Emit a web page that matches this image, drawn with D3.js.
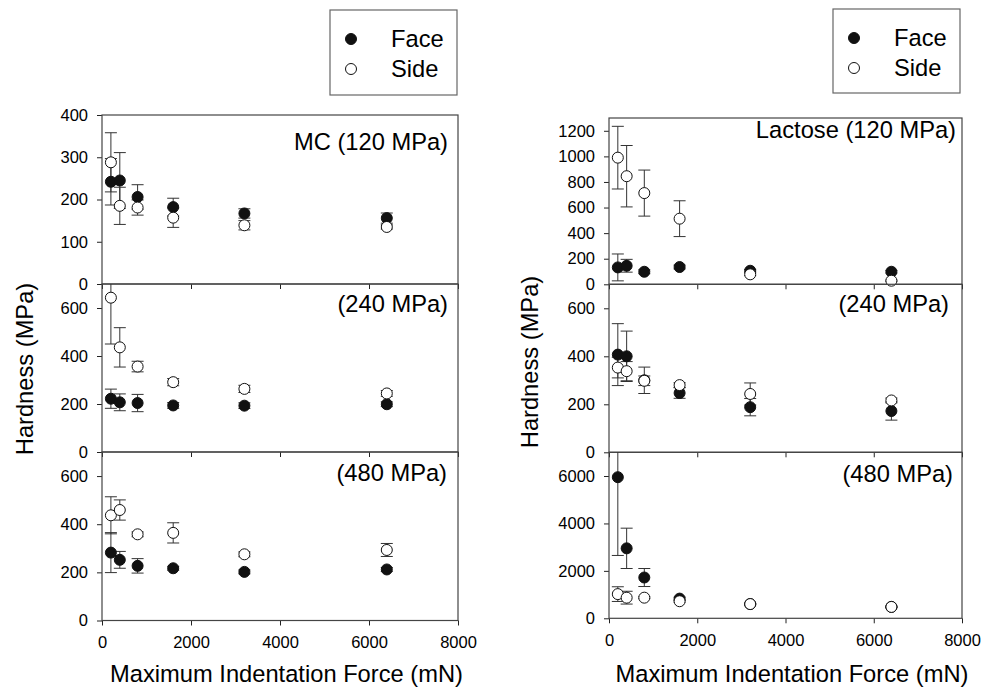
<!DOCTYPE html>
<html><head><meta charset="utf-8">
<script src="https://cdn.jsdelivr.net/npm/d3@7"></script>
<style>body{margin:0;background:#fff} text{font-family:"Liberation Sans",Arial,Helvetica,sans-serif;fill:#000}</style>
</head><body><svg id="c" width="995" height="689"></svg>
<script>
const forces = [200, 400, 800, 1600, 3200, 6400];
const xTicks = [0, 2000, 4000, 6000, 8000];
const seriesNames = ["Face", "Side"];
const xTitle = "Maximum Indentation Force (mN)";
const yTitle = "Hardness (MPa)";

// MC
const mc120Face = [242, 245, 206, 182, 167, 156];
const mc120FaceErr = [55, 66, 29, 21, 11, 12];
const mc120Side = [288, 185, 181, 157, 139, 135];
const mc120SideErr = [70, 44, 18, 23, 11, 5];
const mc240Face = [222, 207, 204, 194, 193, 199];
const mc240FaceErr = [40, 35, 36, 12, 12, 10];
const mc240Side = [643, 436, 356, 291, 263, 244];
const mc240SideErr = [193, 82, 22, 15, 15, 12];
const mc480Face = [282, 252, 227, 217, 202, 212];
const mc480FaceErr = [83, 35, 30, 8, 8, 8];
const mc480Side = [437, 459, 358, 364, 275, 293];
const mc480SideErr = [77, 42, 10, 42, 10, 27];
// Lactose
const lac120Face = [132, 145, 98, 135, 106, 98];
const lac120FaceErr = [105, 50, 15, 15, 10, 10];
const lac120Side = [990, 845, 713, 513, 78, 28];
const lac120SideErr = [245, 240, 180, 140, 10, 5];
const lac240Face = [407, 400, 300, 247, 188, 172];
const lac240FaceErr = [129, 105, 55, 22, 36, 38];
const lac240Side = [353, 338, 298, 280, 243, 216];
const lac240SideErr = [43, 40, 20, 10, 46, 10];
const lac480Face = [5950, 2950, 1720, 830, 600, 480];
const lac480FaceErr = [3300, 850, 380, 60, 30, 30];
const lac480Side = [1020, 870, 870, 720, 600, 480];
const lac480SideErr = [310, 270, 40, 40, 30, 30];

const panelLabels = ["MC (120 MPa)", "(240 MPa)", "(480 MPa)", "Lactose (120 MPa)", "(240 MPa)", "(480 MPa)"];
const yMax = [400, 700, 700, 1300, 700, 7000];
const yTickSets = [[0,100,200,300,400],[0,200,400,600],[0,200,400,600],[0,200,400,600,800,1000,1200],[0,200,400,600],[0,2000,4000,6000]];

const svg = d3.select("#c");
const FONT = '"Liberation Sans",Arial,Helvetica,sans-serif';
const BIG = 23.7;
const TICKF = 16.5;

const columns = [
  {x0: 102, x1: 458, rows: [[115, 284], [284, 452], [452, 620.5]],
   data: [[mc120Face, mc120FaceErr, mc120Side, mc120SideErr],[mc240Face, mc240FaceErr, mc240Side, mc240SideErr],[mc480Face, mc480FaceErr, mc480Side, mc480SideErr]],
   legend: {x: 330, y: 10, w: 127, h: 85}, ytitleX: 33, ytitleY: 369, labelX: [448, 448, 447], labelY: [150, 312, 481]},
  {x0: 609, x1: 962, rows: [[118, 284.3], [284.3, 452.3], [452.3, 618.3]],
   data: [[lac120Face, lac120FaceErr, lac120Side, lac120SideErr],[lac240Face, lac240FaceErr, lac240Side, lac240SideErr],[lac480Face, lac480FaceErr, lac480Side, lac480SideErr]],
   legend: {x: 833, y: 9, w: 127, h: 84}, ytitleX: 538, ytitleY: 362, labelX: [956, 949, 953], labelY: [138, 312, 482]}
];

const R = 5.5;
columns.forEach((col, ci) => {
  const x = d3.scaleLinear().domain([0, 8000]).range([col.x0, col.x1]);
  col.rows.forEach((rw, ri) => {
    const pi = ci * 3 + ri;
    const y = d3.scaleLinear().domain([0, yMax[pi]]).range([rw[1], rw[0]]);
    const g = svg.append("g");
    const clipId = "clip" + pi;
    svg.append("clipPath").attr("id", clipId).append("rect")
      .attr("x", col.x0).attr("y", rw[0]).attr("width", col.x1 - col.x0).attr("height", rw[1] - rw[0]);
    const ya = g.append("g").attr("transform", `translate(${col.x0},0)`)
      .call(d3.axisLeft(y).tickValues(yTickSets[pi]).tickSize(5).tickPadding(9).tickFormat(d3.format("d")));
    ya.select(".domain").remove();
    ya.selectAll("text").attr("font-size", TICKF).attr("font-family", FONT);
    ya.selectAll("line").attr("stroke", "#222");
    const xa = g.append("g").attr("transform", `translate(0,${rw[1]})`)
      .call(d3.axisBottom(x).tickValues(xTicks).tickSize(5).tickPadding(11).tickFormat(ri === 2 ? d3.format("d") : () => ""));
    xa.select(".domain").remove();
    xa.selectAll("text").attr("font-size", TICKF).attr("font-family", FONT);
    xa.selectAll("line").attr("stroke", "#222");
    g.append("rect").attr("x", col.x0).attr("y", rw[0]).attr("width", col.x1 - col.x0).attr("height", rw[1] - rw[0])
      .attr("fill", "none").attr("stroke", "#444").attr("stroke-width", 1.2);
    const [fv, fe, sv, se] = col.data[ri];
    const eb = g.append("g").attr("clip-path", `url(#${clipId})`).attr("stroke", "#333").attr("stroke-width", 1);
    [[fv, fe], [sv, se]].forEach(([v, e]) => {
      forces.forEach((f, i) => {
        const cx = x(f), hi = y(v[i] + e[i]), lo = y(v[i] - e[i]);
        eb.append("line").attr("x1", cx).attr("x2", cx).attr("y1", hi).attr("y2", lo);
        eb.append("line").attr("x1", cx - 6).attr("x2", cx + 6).attr("y1", hi).attr("y2", hi);
        eb.append("line").attr("x1", cx - 6).attr("x2", cx + 6).attr("y1", lo).attr("y2", lo);
      });
    });
    g.selectAll(".face").data(forces).enter().append("circle")
      .attr("cx", d => x(d)).attr("cy", (d, i) => y(fv[i])).attr("r", R)
      .attr("fill", "#111").attr("stroke", "#111").attr("stroke-width", 1);
    g.selectAll(".side").data(forces).enter().append("circle")
      .attr("cx", d => x(d)).attr("cy", (d, i) => y(sv[i])).attr("r", R)
      .attr("fill", "#fff").attr("stroke", "#111").attr("stroke-width", 1);
    g.append("text").attr("x", col.labelX[ri]).attr("y", col.labelY[ri]).attr("text-anchor", "end")
      .attr("font-size", BIG).attr("font-family", FONT).text(panelLabels[pi]);
  });
  svg.append("text").attr("x", (col.x0 + col.x1) / 2 + 6.5).attr("y", 682).attr("text-anchor", "middle")
    .attr("font-size", BIG).attr("font-family", FONT).text(xTitle);
  svg.append("text").attr("transform", `translate(${col.ytitleX},${col.ytitleY}) rotate(-90)`).attr("text-anchor", "middle")
    .attr("font-size", BIG).attr("font-family", FONT).text(yTitle);
  const L = col.legend;
  const lg = svg.append("g");
  lg.append("rect").attr("x", L.x).attr("y", L.y).attr("width", L.w).attr("height", L.h)
    .attr("fill", "#fff").attr("stroke", "#666").attr("stroke-width", 1.2);
  seriesNames.forEach((s, i) => {
    const cy = L.y + 29 + i * 30;
    lg.append("circle").attr("cx", L.x + 21).attr("cy", cy).attr("r", 5.5)
      .attr("fill", i === 0 ? "#111" : "#fff").attr("stroke", "#111").attr("stroke-width", 1);
    lg.append("text").attr("x", L.x + 61).attr("y", cy + 7.5).attr("font-size", BIG).attr("font-family", FONT).text(s);
  });
});
</script></body></html>
